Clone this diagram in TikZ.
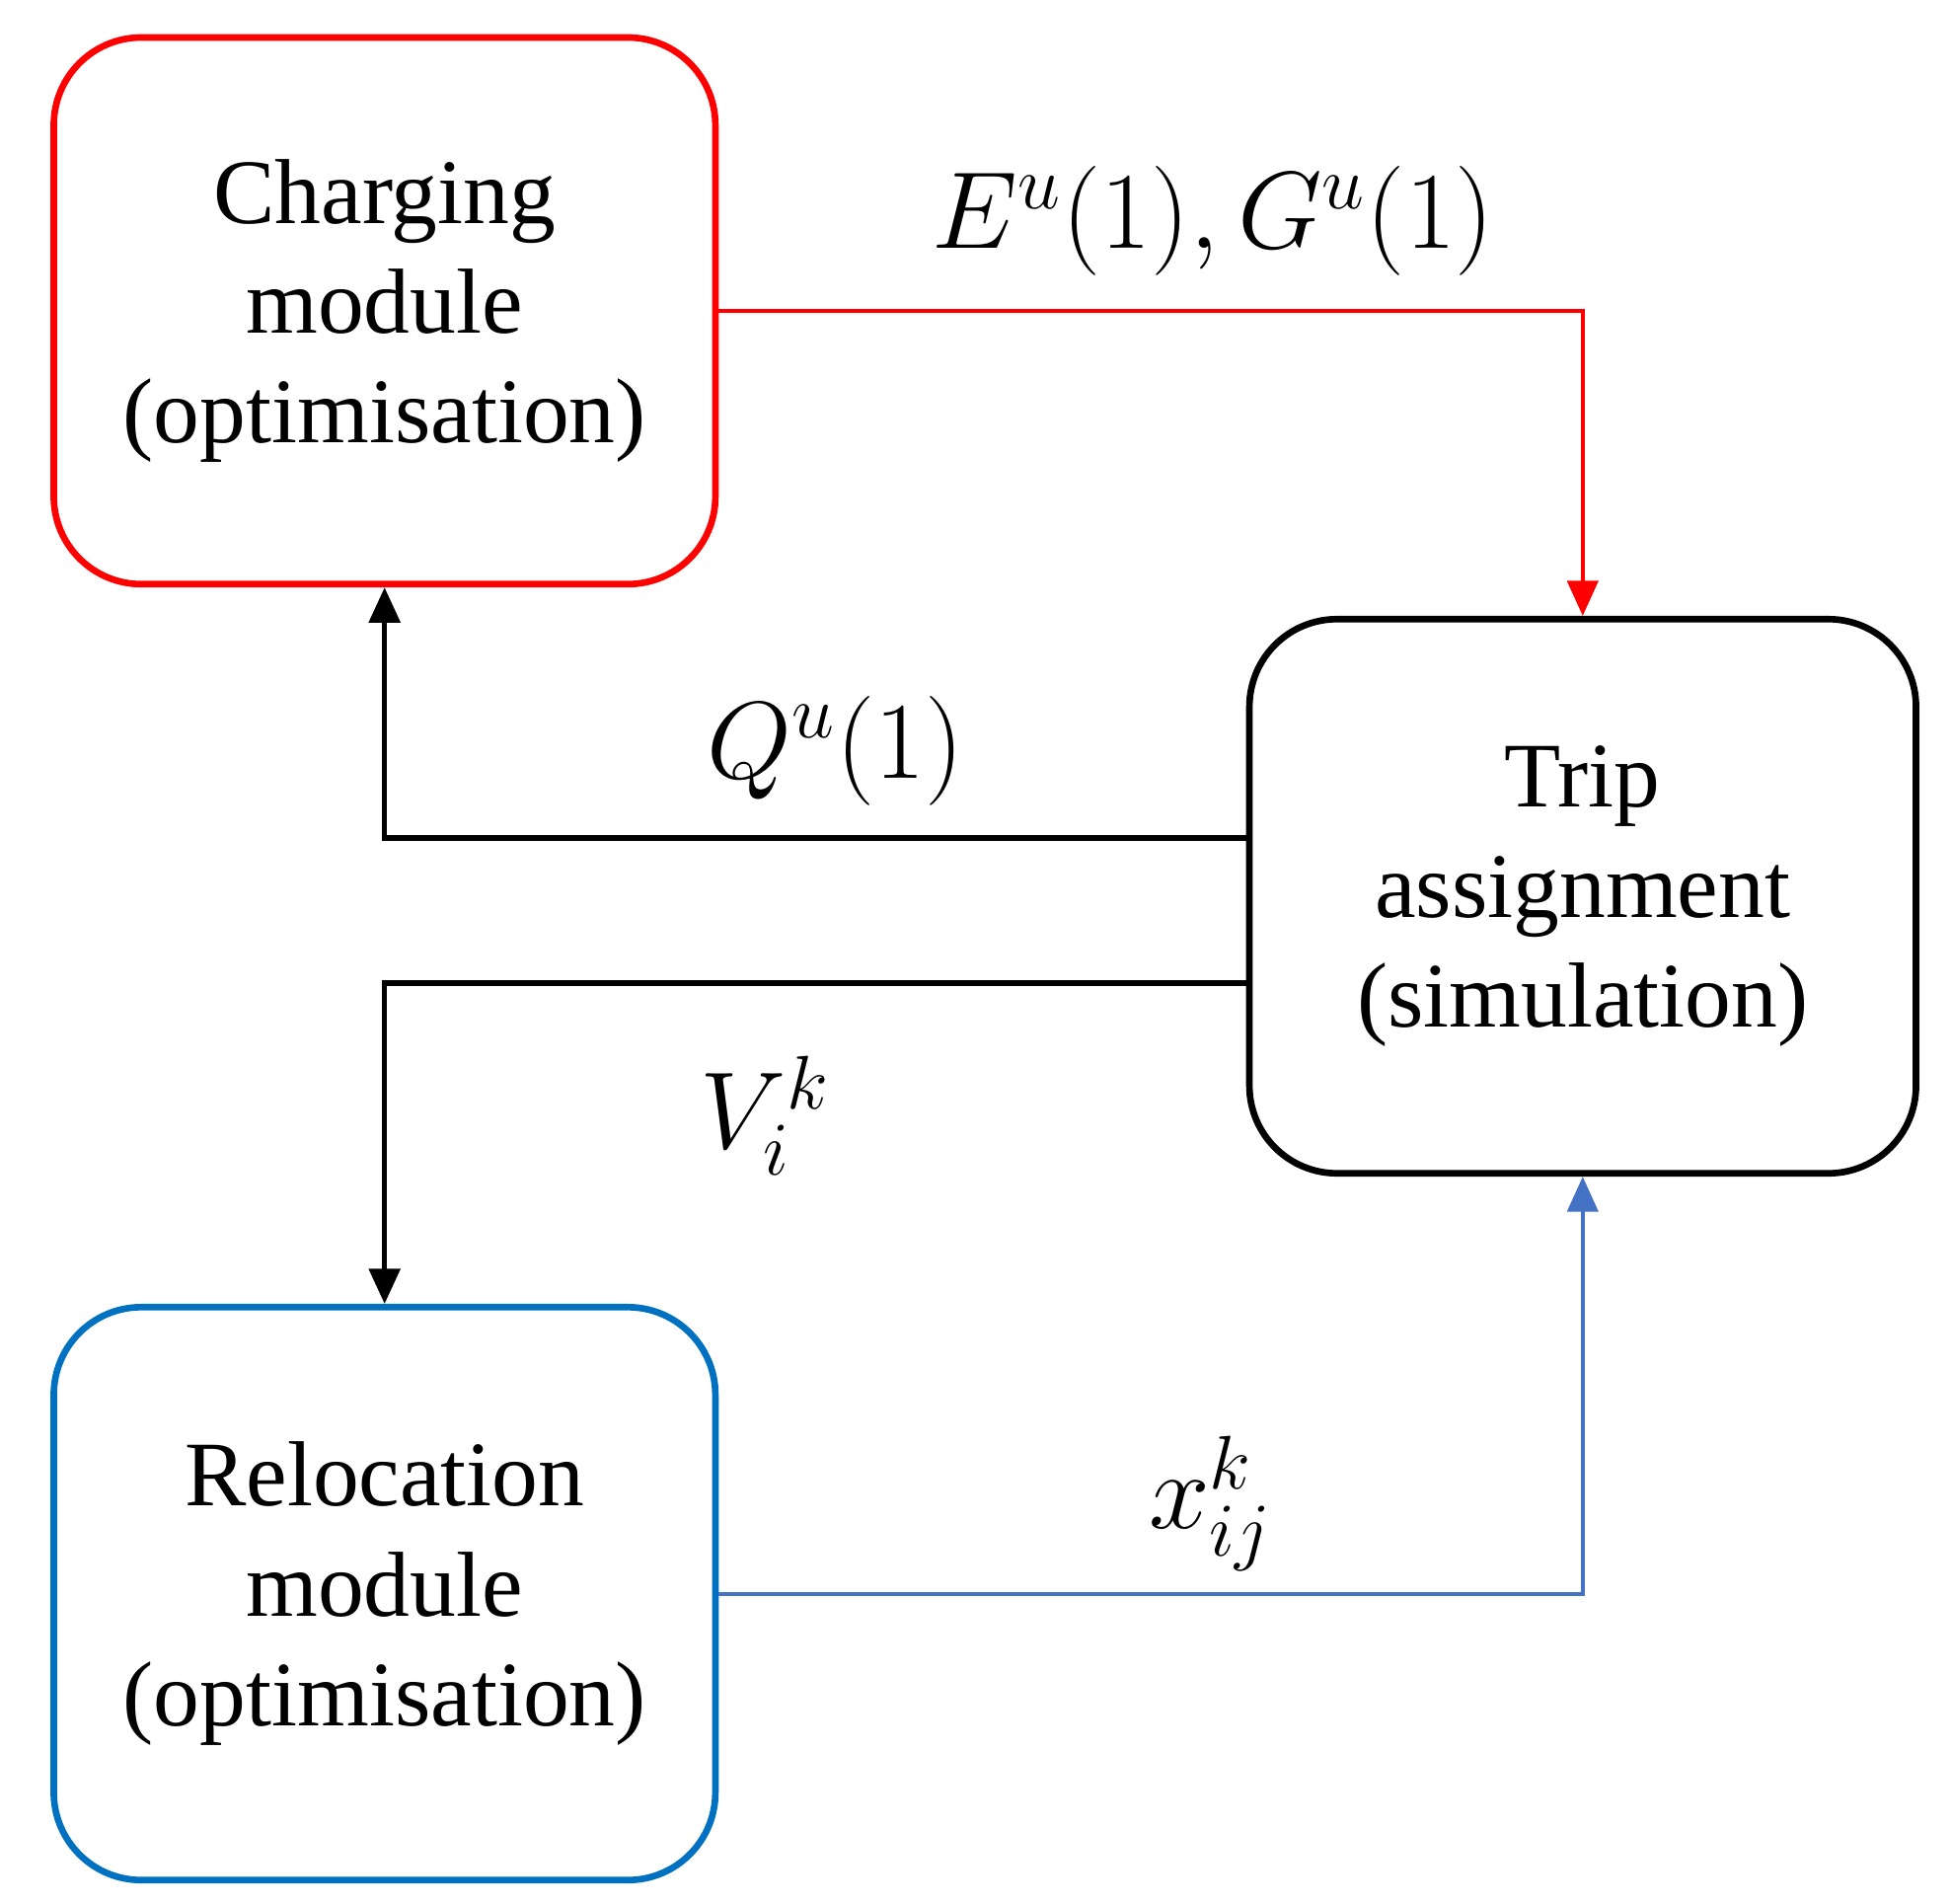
\documentclass[tikz,border=0pt]{standalone}
\usepackage{fontspec}
\setmainfont{Liberation Serif}
\usetikzlibrary{arrows.meta}
\definecolor{rblue}{RGB}{0,112,192}
\definecolor{ablue}{RGB}{68,114,196}
\begin{document}
\begin{tikzpicture}
\useasboundingbox (0,0) rectangle (15.6,15.22);
\tikzset{box/.style={draw,rounded corners=0.7cm,line width=1.5pt,align=center,font=\fontsize{21}{25}\selectfont},
arr/.style={-{Triangle[length=8pt,width=7pt]}},
lab/.style={font=\fontsize{26}{30}\selectfont}}
\node[box,draw=red,minimum width=5.29cm,minimum height=4.37cm] (ch) at (3.075,12.735) {Charging\\module\\(optimisation)};
\node[box,draw=black,minimum width=5.33cm,minimum height=4.43cm] (tr) at (12.655,8.055) {Trip\\assignment\\(simulation)};
\node[box,draw=rblue,minimum width=5.29cm,minimum height=4.58cm] (re) at (3.075,2.48) {Relocation\\module\\(optimisation)};
\draw[arr,red,line width=0.9pt] (ch.east) -| (tr.north);
\draw[arr,black,line width=1.2pt] ([yshift=0.465cm]tr.west) -| (ch.south);
\draw[arr,black,line width=1.2pt] ([yshift=-0.695cm]tr.west) -| (re.north);
\draw[arr,ablue,line width=0.9pt] (re.east) -| (tr.south);
\node[lab] (l1) at (9.7,13.45) {$E^u(1),G^u(1)$};
\node[lab] (l2) at (6.68,9.22) {$Q^u(1)$};
\node[lab] (l3) at (6.12,6.3) {$V_i^k$};
\node[lab] (l4) at (9.68,3.2) {$x_{ij}^k$};
\end{tikzpicture}
\end{document}
